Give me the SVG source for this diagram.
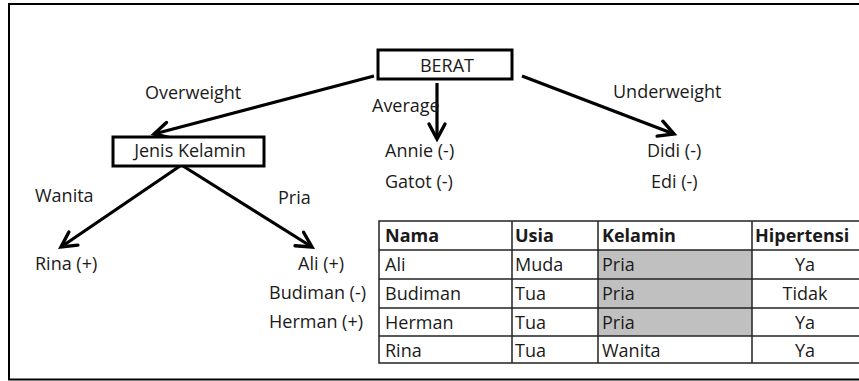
<svg xmlns="http://www.w3.org/2000/svg" width="859" height="381" viewBox="0 0 859 381">
  <style>
    text { font-family: "Open Sans", "Liberation Sans", sans-serif; font-size: 18px; fill: #1a1a1a; }
    .hdr { font-weight: bold; }
    .mid { text-anchor: middle; }
    .box { fill: #ffffff; stroke: #000000; stroke-width: 3; }
    .edge { stroke: #000000; stroke-width: 3.2; fill: none; marker-end: url(#vhead); }
    .grid { stroke: #222222; stroke-width: 1.5; fill: none; }
  </style>
  <defs>
    <marker id="vhead" markerUnits="userSpaceOnUse" markerWidth="30" markerHeight="30" refX="0" refY="0" viewBox="-20 -15 30 30" orient="auto" overflow="visible">
      <path d="M-15,-8 L0,0 L-15,8" fill="none" stroke="#000" stroke-width="3.4" stroke-linejoin="miter" stroke-linecap="round"/>
    </marker>
  </defs>

  <rect x="0" y="0" width="859" height="381" fill="#ffffff"/>
  <!-- outer frame -->
  <rect x="9" y="4" width="860" height="375.5" fill="none" stroke="#000" stroke-width="2"/>

  <!-- connectors -->
  <g id="connectors">
    <line class="edge" x1="374" y1="76" x2="154" y2="134"/>
    <line class="edge" x1="437" y1="83" x2="437" y2="139"/>
    <line class="edge" x1="522" y1="76" x2="674" y2="134"/>
    <line class="edge" x1="180" y1="166" x2="61" y2="247"/>
    <line class="edge" x1="183" y1="166" x2="312" y2="247"/>
  </g>

  <!-- edge labels -->
  <g id="labels">
    <text x="145" y="99">Overweight</text>
    <text x="372" y="112">Average</text>
    <text x="613" y="98">Underweight</text>
    <text x="35" y="202">Wanita</text>
    <text x="278" y="204">Pria</text>
  </g>

  <g id="node-berat">
    <rect class="box" x="378" y="50" width="134" height="29"/>
    <text x="447" y="72" class="mid">BERAT</text>
  </g>

  <g id="node-jenis-kelamin">
    <rect class="box" x="113" y="137" width="151" height="29"/>
    <text x="190" y="157" class="mid">Jenis Kelamin</text>
  </g>

  <g id="leaf-average">
    <text x="385" y="157">Annie (-)</text>
    <text x="385" y="188">Gatot (-)</text>
  </g>

  <g id="leaf-underweight">
    <text x="647" y="157">Didi (-)</text>
    <text x="651" y="188">Edi (-)</text>
  </g>

  <g id="leaf-wanita">
    <text x="35" y="270">Rina (+)</text>
  </g>

  <g id="leaf-pria">
    <text x="298" y="270">Ali (+)</text>
    <text x="269" y="299">Budiman (-)</text>
    <text x="269" y="328">Herman (+)</text>
  </g>

  <!-- data table -->
  <g id="table">
    <rect x="598" y="250" width="154" height="86" fill="#c0c0c0"/>
    <rect class="grid" x="379" y="221" width="490" height="142"/>
    <line class="grid" x1="379" y1="250" x2="869" y2="250"/>
    <line class="grid" x1="379" y1="279" x2="869" y2="279"/>
    <line class="grid" x1="379" y1="308" x2="869" y2="308"/>
    <line class="grid" x1="379" y1="336" x2="869" y2="336"/>
    <line class="grid" x1="512" y1="221" x2="512" y2="363"/>
    <line class="grid" x1="598" y1="221" x2="598" y2="363"/>
    <line class="grid" x1="752" y1="221" x2="752" y2="363"/>

    <text class="hdr" x="385" y="242">Nama</text>
    <text class="hdr" x="515" y="242">Usia</text>
    <text class="hdr" x="602" y="242">Kelamin</text>
    <text class="hdr" x="755" y="242">Hipertensi</text>

    <text x="385" y="271">Ali</text>
    <text x="515" y="271">Muda</text>
    <text x="602" y="271">Pria</text>
    <text x="805" y="271" class="mid">Ya</text>

    <text x="385" y="300">Budiman</text>
    <text x="515" y="300">Tua</text>
    <text x="602" y="300">Pria</text>
    <text x="805" y="300" class="mid">Tidak</text>

    <text x="385" y="329">Herman</text>
    <text x="515" y="329">Tua</text>
    <text x="602" y="329">Pria</text>
    <text x="805" y="329" class="mid">Ya</text>

    <text x="385" y="357">Rina</text>
    <text x="515" y="357">Tua</text>
    <text x="602" y="357">Wanita</text>
    <text x="805" y="357" class="mid">Ya</text>
  </g>
</svg>
